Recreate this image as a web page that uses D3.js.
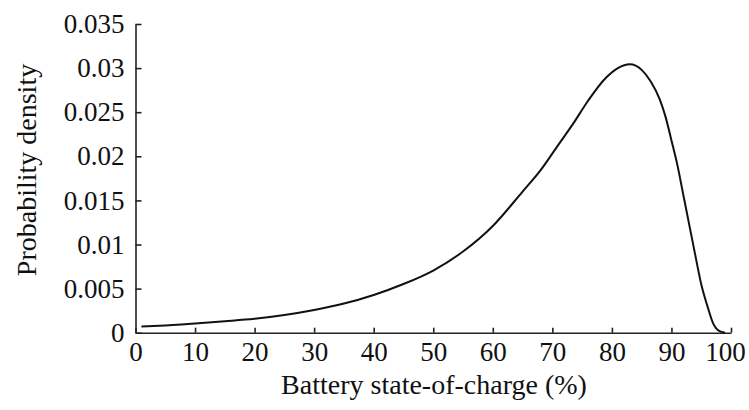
<!DOCTYPE html>
<html>
<head>
<meta charset="utf-8">
<script src="https://cdn.jsdelivr.net/npm/d3@7"></script>
<style>
  body { margin: 0; background: #fff; }
  svg { display: block; }
  .axis path, .axis line { stroke: #222; stroke-width: 1.6px; }
  .axis text { font-family: "Liberation Serif", "Times New Roman", serif; font-size: 27px; fill: #111; }
  .title { font-family: "Liberation Serif", "Times New Roman", serif; font-size: 28px; fill: #111; }
</style>
</head>
<body>
<svg id="chart"></svg>
<script>
// State of charge (%) and probability density
const soc = [1, 4, 10, 15, 20, 25, 30, 35, 40, 45, 50, 55, 60, 65, 68, 71, 73.5, 76, 79, 81, 83, 85, 86.5, 88, 89, 90, 91, 92, 93, 94, 95, 96, 97, 98, 99];
const density = [0.0007, 0.00079, 0.00105, 0.0013, 0.00158, 0.002, 0.00257, 0.0033, 0.00428, 0.00552, 0.00705, 0.0092, 0.0121, 0.016, 0.0184, 0.0213, 0.0237, 0.0263, 0.0289, 0.03, 0.03044, 0.0298, 0.0285, 0.0265, 0.0245, 0.0218, 0.019, 0.0156, 0.0122, 0.0088, 0.0055, 0.0031, 0.00106, 0.0002, 0];

// Axis ticks
const xTicks = [0, 10, 20, 30, 40, 50, 60, 70, 80, 90, 100];
const yTicks = [0, 0.005, 0.01, 0.015, 0.02, 0.025, 0.03, 0.035];
const yTickLabels = ["0", "0.005", "0.01", "0.015", "0.02", "0.025", "0.03", "0.035"];

const width = 749;
const height = 410;

const svg = d3.select("#chart")
  .attr("width", width)
  .attr("height", height);

const x = d3.scaleLinear().domain([0, 100]).range([135.5, 731]);
const y = d3.scaleLinear().domain([0, 0.035]).range([332.7, 24]);

// x axis, ticks pointing inward
const xAxis = svg.append("g")
  .attr("class", "axis")
  .attr("transform", `translate(0,${y(0)})`)
  .call(d3.axisBottom(x)
    .tickValues(xTicks)
    .tickSizeInner(-5)
    .tickSizeOuter(0)
    .tickPadding(9)
    .tickFormat(d3.format("d")));

// last label sits a bit left so it stays inside the picture
xAxis.selectAll(".tick text")
  .filter(d => d === 100)
  .attr("dx", -6);

// y axis
svg.append("g")
  .attr("class", "axis")
  .attr("transform", `translate(${x(0)},0)`)
  .call(d3.axisLeft(y)
    .tickValues(yTicks)
    .tickSizeInner(-6)
    .tickSizeOuter(0)
    .tickPadding(11)
    .tickFormat((d, i) => yTickLabels[i]));

// the density curve
const line = d3.line()
  .x((d, i) => x(soc[i]))
  .y(d => y(d))
  .curve(d3.curveMonotoneX);

svg.append("path")
  .datum(density)
  .attr("fill", "none")
  .attr("stroke", "#111")
  .attr("stroke-width", 2)
  .attr("d", line);

// axis titles
svg.append("text")
  .attr("class", "title")
  .attr("x", 434)
  .attr("y", 394)
  .attr("text-anchor", "middle")
  .text("Battery state-of-charge (%)");

svg.append("text")
  .attr("class", "title")
  .attr("transform", "translate(36,170) rotate(-90)")
  .attr("text-anchor", "middle")
  .text("Probability density");
</script>
</body>
</html>
